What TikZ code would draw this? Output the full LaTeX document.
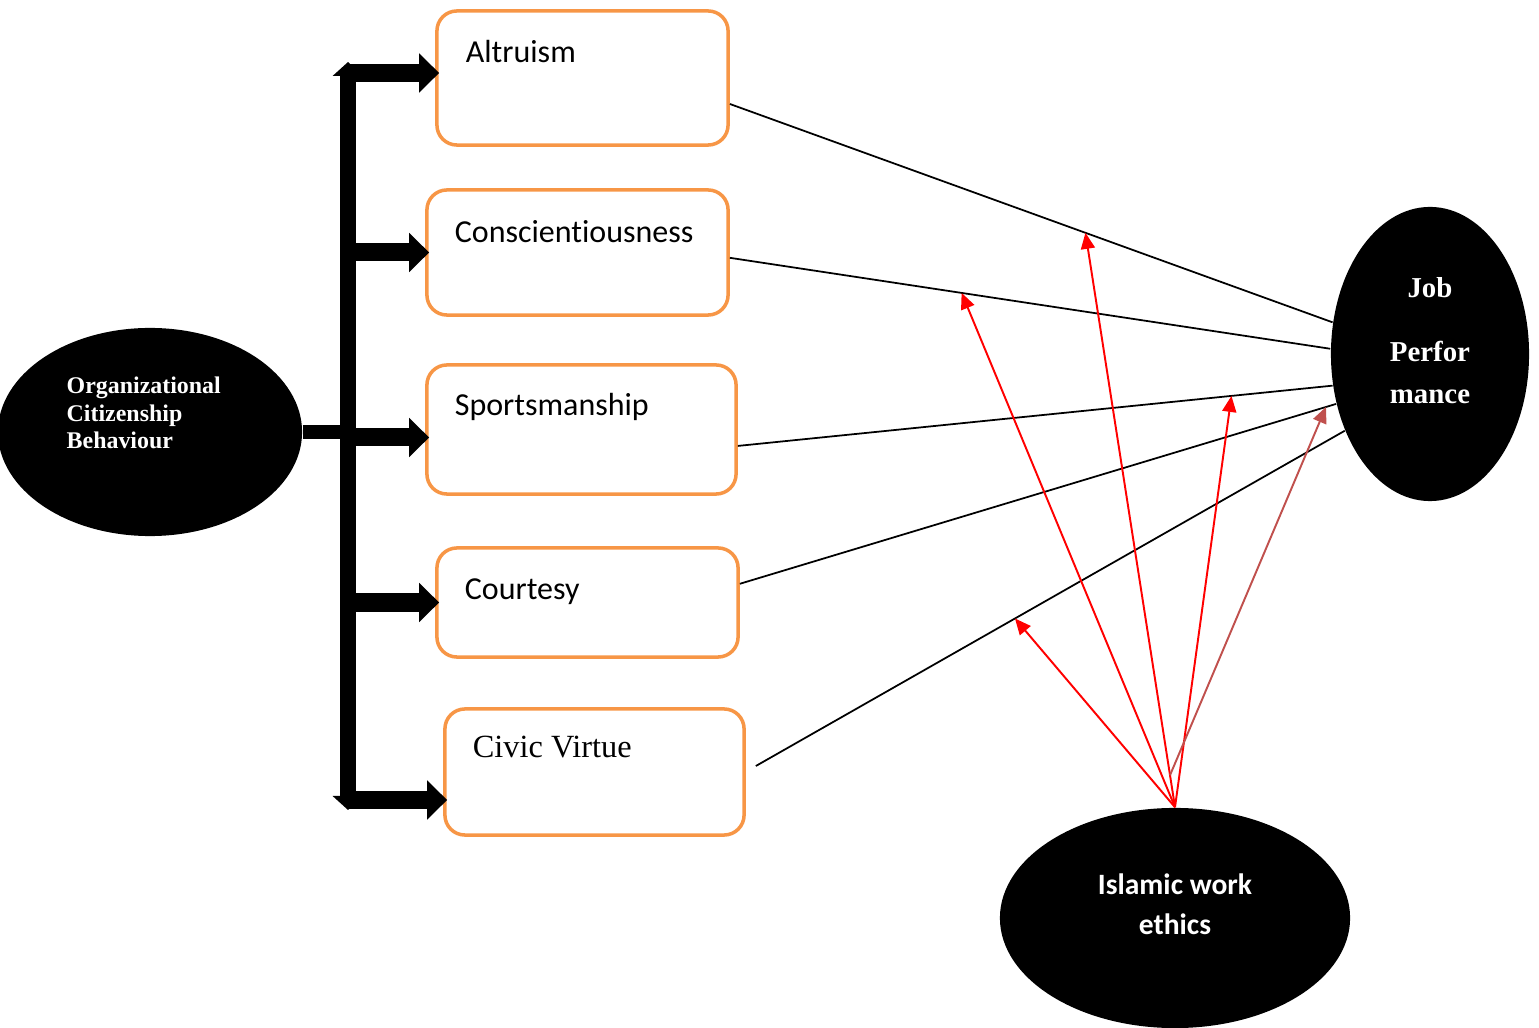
\documentclass[tikz,border=0pt]{standalone}
\usepackage{fontspec}
\setmainfont{Liberation Serif}
\newfontfamily\calibri[Ligatures=NoCommon]{Carlito}
\usetikzlibrary{arrows.meta,calc,shapes.geometric}
\definecolor{boxorange}{HTML}{F79646}
\definecolor{brickred}{HTML}{C0504D}

\begin{document}
\begin{tikzpicture}[x=0.01cm, y=-0.01cm,
	dimbox/.style={draw=boxorange, line width=1pt, rounded corners=0.2cm, inner sep=0},
	boxtext/.style={anchor=base west, inner sep=0, font=\calibri\fontsize{9.1}{11}\selectfont},
	blob/.style={ellipse, fill=black, inner sep=0},
	whitebold/.style={anchor=base, inner sep=0, text=white, font=\bfseries\fontsize{8.2}{10}\selectfont},
	spine/.style={line width=0.15cm, {Triangle[length=0.14cm,width=0.3cm]}-{Triangle[length=0.14cm,width=0.3cm]}},
	hbar/.style={line width=0.18cm, -{Triangle[length=0.2cm,width=0.38cm]}},
	link/.style={line width=0.5pt},
	moderate/.style={red, line width=0.55pt, -{Triangle[length=0.16cm,width=0.14cm]}}]
	\useasboundingbox (0,0) rectangle (1539,1028);

	% ellipses
	\node[blob, minimum width=3.04cm, minimum height=2.08cm] (ocb) at (150,432) {};
	\node[blob, minimum width=1.98cm, minimum height=2.94cm] (jp) at (1430,354) {};
	\node[blob, minimum width=3.5cm, minimum height=2.2cm] (iwe) at (1175,918) {};

	\node[whitebold, anchor=base west, font=\bfseries\fontsize{6.8}{8}\selectfont] (ocb1) at (66,394) {Organizational};
	\node[whitebold, anchor=base west, font=\bfseries\fontsize{6.8}{8}\selectfont] (ocb2) at (66,422) {Citizenship};
	\node[whitebold, anchor=base west, font=\bfseries\fontsize{6.8}{8}\selectfont] (ocb3) at (66,449) {Behaviour};

	\node[whitebold] (jp1) at ($(jp)+(0,-56)$) {Job};
	\node[whitebold] (jp2) at ($(jp)+(0,8)$) {Perfor};
	\node[whitebold] (jp3) at ($(jp)+(0,50)$) {mance};

	\node[whitebold, font=\calibri\bfseries\fontsize{8.4}{10}\selectfont] (iwe1) at ($(iwe)+(0,-24)$) {Islamic work};
	\node[whitebold, font=\calibri\bfseries\fontsize{8.4}{10}\selectfont] (iwe2) at ($(iwe)+(0,17)$) {ethics};

	% dimension boxes
	\node[dimbox, minimum width=2.91cm, minimum height=1.34cm] (alt) at (582.5,78) {};
	\node[dimbox, minimum width=3.01cm, minimum height=1.25cm] (con) at (577.5,252.5) {};
	\node[dimbox, minimum width=3.09cm, minimum height=1.29cm] (spo) at (581.5,429.5) {};
	\node[dimbox, minimum width=3.01cm, minimum height=1.09cm] (cou) at (587.5,602.5) {};
	\node[dimbox, minimum width=2.99cm, minimum height=1.26cm] (civ) at (594.5,772) {};

	\node[boxtext] (altlbl) at ($(alt.north west)+(30,53)$) {Altruism};
	\node[boxtext] (conlbl) at ($(con.north west)+(29,54)$) {Conscientiousness};
	\node[boxtext] (spolbl) at ($(spo.north west)+(29,52)$) {Sportsmanship};
	\node[boxtext] (coulbl) at ($(cou.north west)+(29,53)$) {Courtesy};
	\node[boxtext, font=\fontsize{9.2}{11}\selectfont] (civlbl) at ($(civ.north west)+(29,50)$) {Civic Virtue};

	% bracket
	\coordinate (spinetop) at (348,62);
	\coordinate (spinebot) at (348,810);
	\draw[spine] (spinetop) -- (spinebot);
	\foreach \b/\dy in {alt/-5, con/0, spo/8, cou/0, civ/28}{
		\path ($(\b.west)+(4,\dy)$) coordinate (\b in);
		\draw[hbar] (spinetop |- \b in) -- (\b in);
	}
	\draw[line width=0.14cm] (ocb.east) -- (ocb.east -| spinetop);

	% links to job performance
	\draw[link] (alt.-10.5) -- coordinate[pos=0.59] (onalt) (jp.162);
	\draw[link] (con.-2) -- coordinate[pos=0.386] (oncon) (jp.177);
	\draw[link] (spo.-6) -- coordinate[pos=0.83] (onspo) (jp.198);
	\draw[link] (cou.7) -- coordinate[pos=0.983] (oncou) (jp.208);
	\draw[link] ($(civ.east)+(10,-6)$) -- coordinate[pos=0.44] (onciv) (jp.222);

	% moderation
	\draw[moderate] (iwe.north) -- (oncon);
	\draw[moderate] (iwe.north) -- (onalt);
	\draw[moderate] (iwe.north) -- (onspo);
	\draw[moderate] (iwe.north) -- (onciv);
	\coordinate (brownstart) at ($(iwe.north)+(-5,-32)$);
	\draw[moderate, brickred] (brownstart) -- (oncou);
\end{tikzpicture}
\end{document}
